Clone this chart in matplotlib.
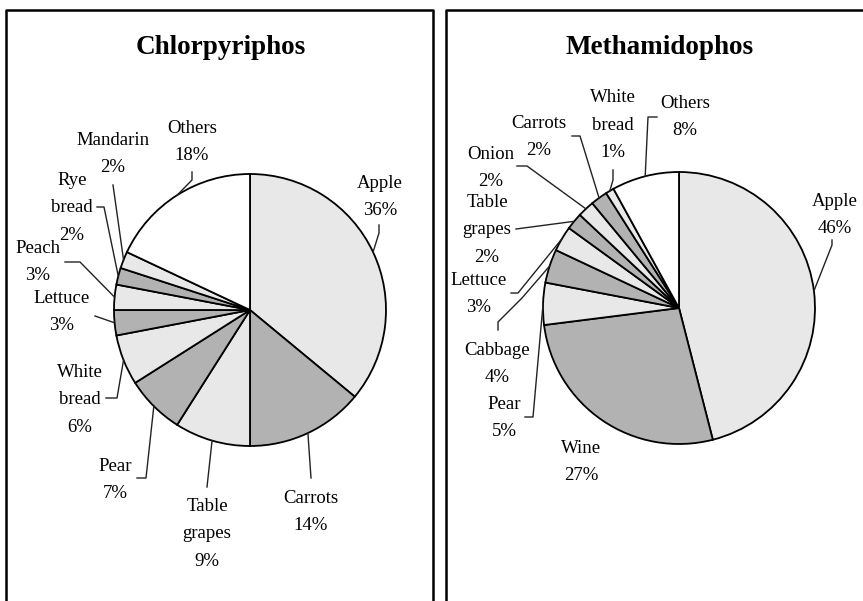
import numpy as np
import matplotlib
matplotlib.use("Agg")
import matplotlib.pyplot as plt

plt.rcParams['font.family'] = ['Liberation Serif', 'DejaVu Serif']

# data
chlor_labels = ["Apple", "Carrots", "Table\ngrapes", "Pear", "White\nbread",
                "Lettuce", "Peach", "Rye\nbread", "Mandarin", "Others"]
chlor_values = [36, 14, 9, 7, 6, 3, 3, 2, 2, 18]

meth_labels = ["Apple", "Wine", "Pear", "Cabbage", "Lettuce", "Table\ngrapes",
               "Onion", "Carrots", "White\nbread", "Others"]
meth_values = [46, 27, 5, 4, 3, 2, 2, 2, 1, 8]

LIGHT = "#e8e8e8"
DARK = "#b2b2b2"

W, H = 863, 601
fig = plt.figure(figsize=(W / 100, H / 100), dpi=100)
ax = fig.add_axes([0, 0, 1, 1])

def Y(y):
    return H - y

# layout: label centers and leader elbow points (pixel coords, y down)
chlor_layout = [
    ((380, 197), [(379, 233), (379, 225)]),
    ((311, 512), [(311, 478)]),
    ((207, 534), [(207, 487)]),
    ((115, 480), [(146, 478), (137, 478)]),
    ((80, 400), [(117, 398), (106, 398)]),
    ((62, 312), [(95, 316)]),
    ((38, 262), [(80, 262), (65, 262)]),
    ((72, 208), [(104, 207), (97, 207)]),
    ((113, 154), [(113, 185)]),
    ((192, 142), [(192, 180), (192, 172)]),
]
meth_layout = [
    ((835, 215), [(832, 245), (832, 240)]),
    ((581, 462), None),
    ((504, 418), [(533, 417), (525, 417)]),
    ((497, 364), [(522, 298), (498, 322), (498, 330)]),
    ((479, 294), [(518, 293), (511, 293)]),
    ((487, 230), [(516, 229)]),
    ((491, 168), [(527, 166), (517, 166)]),
    ((539, 137), [(580, 136), (572, 136)]),
    ((613, 125), [(613, 180), (613, 170)]),
    ((685, 117), [(648, 117), (657, 117)]),
]

def draw_pie(values, labels, layout, cx, cy, r, title, tx):
    colors = [LIGHT if i % 2 == 0 else DARK for i in range(len(values) - 1)] + ["white"]
    ax.pie(values, startangle=90, counterclock=False, colors=colors,
           radius=r, center=(cx, Y(cy)),
           wedgeprops=dict(edgecolor="black", linewidth=1.3))
    total = float(sum(values))
    cum = np.cumsum([0] + values)
    for i, (lab, v) in enumerate(zip(labels, values)):
        (lx, ly), pts = layout[i]
        ax.text(lx, Y(ly), f"{lab}\n{v}%", ha="center", va="center",
                fontsize=13.5, linespacing=1.77)
        if pts is None:
            continue
        mid = (cum[i] + v / 2) / total * 2 * np.pi
        sx, sy = cx + r * np.sin(mid), cy - r * np.cos(mid)
        xs = [sx] + [p[0] for p in pts]
        ys = [Y(sy)] + [Y(p[1]) for p in pts]
        ax.plot(xs, ys, color="#222222", linewidth=1.0)
    ax.text(tx, Y(48), title, ha="center", va="center", fontsize=19.5,
            fontweight="bold")

draw_pie(chlor_values, chlor_labels, chlor_layout, 250, 310, 136, "Chlorpyriphos", 221)
draw_pie(meth_values, meth_labels, meth_layout, 679, 308, 136, "Methamidophos", 660)

# panel frames
ax.plot([6, 6, 433, 433], [0, Y(10), Y(10), 0], color="black", linewidth=1.8)
ax.plot([446, 446, W], [0, Y(10), Y(10)], color="black", linewidth=1.8)

ax.set_xlim(0, W)
ax.set_ylim(0, H)
ax.set_aspect("equal")
ax.axis("off")

fig.savefig("out.png", dpi=100)
